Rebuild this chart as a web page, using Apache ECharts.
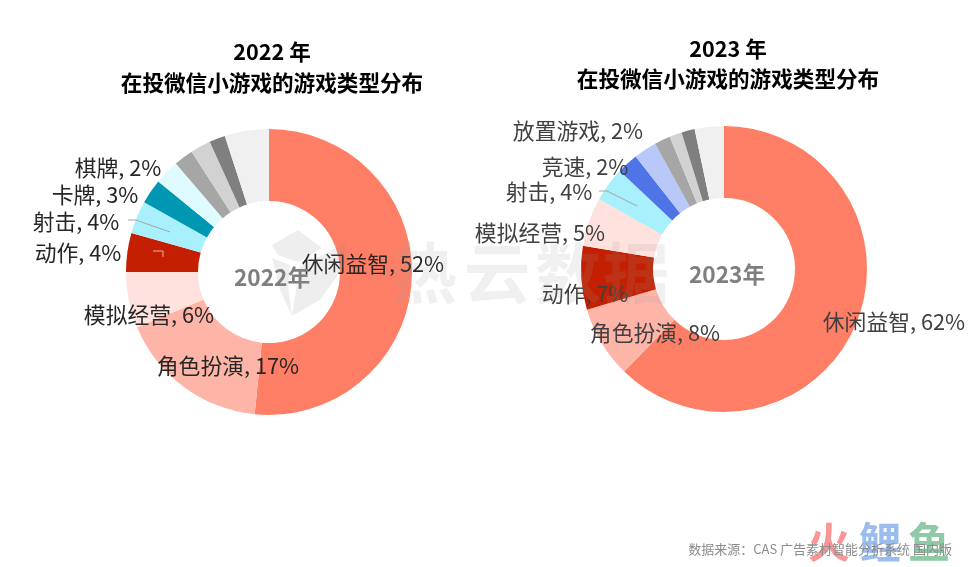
<!DOCTYPE html>
<html lang="zh-CN">
<head>
    <meta charset="UTF-8">
    <title>在投微信小游戏的游戏类型分布</title>
    <script src="https://cdn.jsdelivr.net/npm/echarts@6/dist/echarts.min.js"></script>
    <style>
        html, body { margin: 0; padding: 0; background: #fff; }
        #chart { width: 975px; height: 567px; }
    </style>
</head>
<body>
<div id="chart"></div>
<script>
    // 2022 年：扇区占比（从图上量出）和标签上写的百分比，灰色几块原图没有标签
    var names2022 = ['休闲益智', '角色扮演', '模拟经营', '动作', '射击', '卡牌', '棋牌', '', '', '', ''];
    var values2022 = [51.6, 17.1, 6.3, 4.4, 3.7, 2.8, 2.8, 2.2, 2.3, 1.8, 5.0];
    var labels2022 = [52, 17, 6, 4, 4, 3, 2, null, null, null, null];

    // 2023 年
    var names2023 = ['休闲益智', '角色扮演', '动作', '模拟经营', '射击', '竞速', '放置游戏', '', '', '', ''];
    var values2023 = [62.3, 8.1, 7.2, 5.5, 3.9, 2.4, 2.6, 1.8, 1.4, 1.5, 3.3];
    var labels2023 = [62, 8, 7, 5, 4, 2, 2, null, null, null, null];

    var colors2022 = ['#ff7f66', '#ffb4a8', '#ffe1dd', '#c41f00', '#a8f0fb', '#0097b2', '#e0fbff', '#a6a6a6', '#d2d2d2', '#7f7f7f', '#f0f0f0'];
    var colors2023 = ['#ff7f66', '#ffb4a8', '#c41f00', '#ffe1dd', '#a8f0fb', '#4f74e8', '#b8c8f8', '#a6a6a6', '#d2d2d2', '#7f7f7f', '#f0f0f0'];

    // 标签中心位置
    var labelPos2022 = [[373, 264], [228, 366], [149, 315], [78, 253], [76, 222], [95, 195], [118, 168]];
    var labelPos2023 = [[894, 322], [655, 333], [585, 294], [540, 233], [549, 192], [585, 167], [578, 131]];

    var font = '"Noto Sans CJK SC", "Noto Sans", sans-serif';

    function pieData(names, values, labels, colors, textColor) {
        return values.map(function (v, i) {
            return {
                name: names[i],
                value: v,
                itemStyle: { color: colors[i] },
                label: {
                    show: labels[i] !== null,
                    color: textColor,
                    formatter: names[i] + ', ' + labels[i] + '%'
                }
            };
        });
    }

    function pieSeries(center, data, pos) {
        return {
            type: 'pie',
            center: center,
            radius: [71, 143],
            startAngle: 90,
            avoidLabelOverlap: false,
            silent: true,
            label: { fontFamily: font, fontSize: 21.8, position: 'outside' },
            labelLine: { show: false },
            labelLayout: function (params) {
                var p = pos[params.dataIndex];
                if (!p) return {};
                return { x: p[0], y: p[1], align: 'center', verticalAlign: 'middle' };
            },
            data: data
        };
    }

    function text(x, y, str, size, color, weight, opacity) {
        return {
            type: 'text', x: x, y: y, z: 20, silent: true,
            style: {
                text: str, fontFamily: font, fontSize: size, fontWeight: weight || 'normal',
                fill: color, opacity: opacity === undefined ? 1 : opacity,
                align: 'center', verticalAlign: 'middle'
            }
        };
    }

    // 水印 logo 的一块
    function logoPart(points) {
        return { type: 'polygon', z: 21, silent: true, shape: { points: points }, style: { fill: '#888', opacity: 0.14 } };
    }

    var e = echarts.init(document.getElementById('chart'));
    e.setOption({
        animation: false,
        backgroundColor: '#fff',
        title: [
            {
                text: '2022 年\n在投微信小游戏的游戏类型分布',
                left: 267, top: 31, textAlign: 'center',
                textStyle: { fontFamily: font, fontSize: 21.6, fontWeight: 'bold', color: '#000', lineHeight: 31 }
            },
            {
                text: '2023 年\n在投微信小游戏的游戏类型分布',
                left: 723, top: 29, textAlign: 'center',
                textStyle: { fontFamily: font, fontSize: 21.6, fontWeight: 'bold', color: '#000', lineHeight: 30 }
            }
        ],
        series: [
            pieSeries([269, 272], pieData(names2022, values2022, labels2022, colors2022, '#262626'), labelPos2022),
            pieSeries([724, 269], pieData(names2023, values2023, labels2023, colors2023, '#404040'), labelPos2023)
        ],
        graphic: [
            // 环中间的年份
            text(272, 277, '2022年', 22.7, '#7f7f7f', 'bold'),
            text(727, 274, '2023年', 22.7, '#7f7f7f', 'bold'),
            // 射击的引导线和动作上残留的短线
            { type: 'polyline', z: 20, silent: true, shape: { points: [[128, 220], [136, 220], [170, 232]] }, style: { stroke: '#a6a6a6', lineWidth: 1, fill: null } },
            { type: 'polyline', z: 20, silent: true, shape: { points: [[599, 191], [607, 191], [637, 206]] }, style: { stroke: '#a6a6a6', lineWidth: 1, fill: null } },
            { type: 'polyline', z: 20, silent: true, shape: { points: [[153, 251], [163, 251], [163, 257]] }, style: { stroke: '#f0b0a0', lineWidth: 1, fill: null } },
            // 热云数据水印
            logoPart([[272, 245], [298, 230], [322, 248], [298, 262], [278, 255]]),
            logoPart([[272, 258], [290, 265], [288, 285], [292, 316], [280, 290]]),
            logoPart([[298, 268], [345, 243], [347, 262], [320, 300], [292, 316], [296, 290]]),
            text(424, 273, '热', 66, '#999', 'bold', 0.15),
            text(497, 273, '云', 66, '#999', 'bold', 0.15),
            text(568, 273, '数', 66, '#999', 'bold', 0.15),
            text(636, 273, '据', 66, '#999', 'bold', 0.15),
            // 火鲤鱼水印和数据来源
            text(829, 542, '火', 42, '#f8696b', 'bold', 0.7),
            text(880, 542, '鲤', 42, '#6f9fe8', 'bold', 0.7),
            text(929, 542, '鱼', 42, '#5fb27f', 'bold', 0.7),
            {
                type: 'text', x: 952, y: 549, z: 22, silent: true,
                style: { text: '数据来源：CAS 广告素材智能分析系统 国内版', fontFamily: font, fontSize: 13, fill: '#8c8c8c', align: 'right', verticalAlign: 'middle' }
            }
        ]
    });
</script>
</body>
</html>
